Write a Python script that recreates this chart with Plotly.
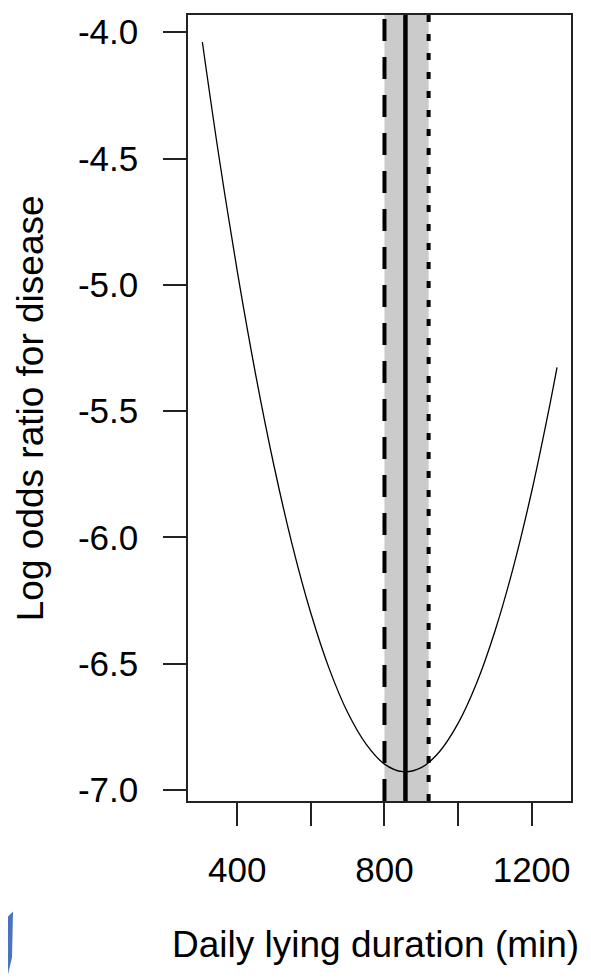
import plotly.graph_objects as go

# Curve values (daily lying duration in min, log odds ratio)
duration = [305, 350, 400, 450, 500, 550, 600, 650, 700, 750, 800, 850,
            900, 950, 1000, 1050, 1100, 1150, 1200, 1250, 1269]
log_odds = [-4.039, -4.491, -4.947, -5.356, -5.718, -6.033, -6.300, -6.520,
            -6.693, -6.818, -6.897, -6.927, -6.911, -6.847, -6.736, -6.578,
            -6.372, -6.119, -5.819, -5.471, -5.327]

# Reference lines / band
band_low = 800
band_high = 920
optimum = 857

x_tickvals = [400, 600, 800, 1000, 1200]
x_ticktext = ["400", "", "800", "", "1200"]
y_tickvals = [-4.0, -4.5, -5.0, -5.5, -6.0, -6.5, -7.0]
y_ticktext = ["-4.0", "-4.5", "-5.0", "-5.5", "-6.0", "-6.5", "-7.0"]

x_range = [266, 1307]
y_range = [-7.043, -3.932]

FONT = "Liberation Sans, Arial, sans-serif"

fig = go.Figure()

fig.add_trace(go.Scatter(x=[band_low, band_low], y=y_range, mode="lines",
                         line=dict(color="black", width=4, dash="22px,16px"),
                         hoverinfo="skip", showlegend=False))
fig.add_trace(go.Scatter(x=[optimum, optimum], y=y_range, mode="lines",
                         line=dict(color="black", width=4.5),
                         hoverinfo="skip", showlegend=False))
fig.add_trace(go.Scatter(x=[band_high, band_high], y=y_range, mode="lines",
                         line=dict(color="black", width=4, dash="7px,12px"),
                         hoverinfo="skip", showlegend=False))
fig.add_trace(go.Scatter(x=duration, y=log_odds, mode="lines",
                         line=dict(color="black", width=1.3, shape="spline"),
                         showlegend=False))

axis_common = dict(showline=True, linecolor="#222222", linewidth=1.5, mirror=True,
                   ticks="outside", ticklen=23, tickwidth=1.5, tickcolor="#222222",
                   showgrid=False, zeroline=False,
                   tickfont=dict(family=FONT, size=35, color="black"))

fig.update_xaxes(range=x_range, tickvals=x_tickvals, ticktext=x_ticktext,
                 ticklabelstandoff=14, **axis_common)
fig.update_yaxes(range=y_range, tickvals=y_tickvals, ticktext=y_ticktext,
                 ticklabelstandoff=18, **axis_common)

fig.update_layout(
    width=583, height=972,
    margin=dict(l=180, r=20, t=4, b=179),
    plot_bgcolor="white", paper_bgcolor="white",
    annotations=[
        dict(text="Log odds ratio for disease", xref="paper", yref="paper",
             x=-0.412, y=0.5, xanchor="center", yanchor="middle", textangle=-90,
             showarrow=False, font=dict(family=FONT, size=37, color="black")),
        dict(text="Daily lying duration (min)", xref="paper", yref="paper",
             x=0.49, y=-0.1825, xanchor="center", yanchor="middle",
             showarrow=False, font=dict(family=FONT, size=37, color="black")),
    ],
    shapes=[
        dict(type="rect", xref="x", yref="paper", x0=band_low, x1=band_high,
             y0=0, y1=1, fillcolor="#cbcbcb", line=dict(width=0), layer="below"),
        dict(type="path", xref="paper", yref="paper",
             path="M -0.4778 -0.1508 L -0.4569 -0.1407 L -0.4595 -0.1990 L -0.4700 -0.2205 L -0.4830 -0.2205 Z",
             fillcolor="#4a74c2", line=dict(width=0), layer="above"),
    ],
)

fig.write_html("out.html")
